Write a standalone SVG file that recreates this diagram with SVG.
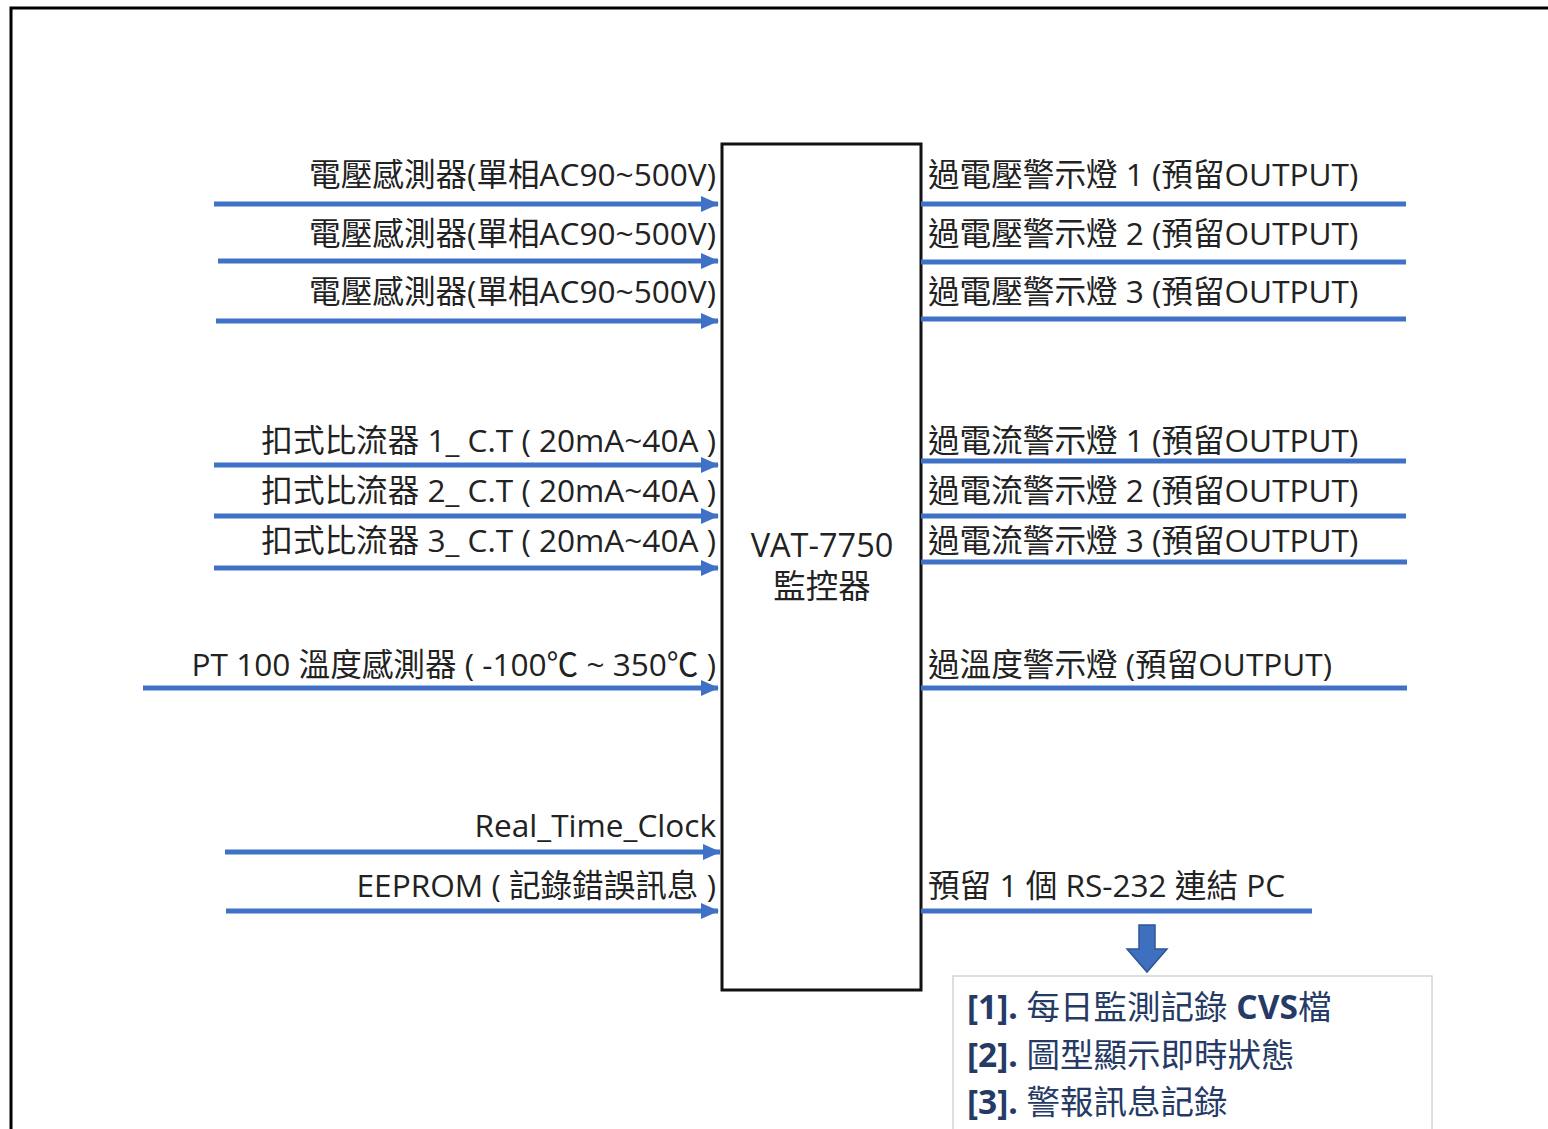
<svg xmlns="http://www.w3.org/2000/svg" width="1548" height="1129" viewBox="0 0 1548 1129">
<defs>
<marker id="ah" markerWidth="3.6" markerHeight="3.2" refX="3.4" refY="1.6" orient="auto" markerUnits="strokeWidth">
<path d="M0,0 L3.6,1.6 L0,3.2 Z" fill="#3f72c6"/>
</marker>
<style>
.lbl{font-family:"Open Sans","Noto Sans CJK TC",sans-serif;font-size:31.6px;fill:#222}
.ctr{font-family:"Open Sans","Noto Sans CJK TC",sans-serif;font-size:32.5px;fill:#222;text-anchor:middle}
.r{text-anchor:end}
.in{stroke:#3f72c6;stroke-width:5;fill:none}
.out{stroke:#3f72c6;stroke-width:5;fill:none}
.pc{font-family:"Open Sans","Noto Sans CJK TC",sans-serif;font-size:33.5px;fill:#263a66}
</style>
</defs>
<rect width="1548" height="1129" fill="#ffffff"/>
<path d="M11,1129 L11,8 L1548,8" fill="none" stroke="#000" stroke-width="3"/>

<g id="controller">
<rect x="722" y="144" width="199" height="846" fill="#fff" stroke="#111" stroke-width="3"/>
<text class="ctr" x="822" y="557">VAT-7750</text>
<text class="ctr" x="822" y="598">監控器</text>
</g>

<g id="connectors">
<line class="in" x1="214" y1="204" x2="718" y2="204" marker-end="url(#ah)"/>
<line class="in" x1="218" y1="261" x2="718" y2="261" marker-end="url(#ah)"/>
<line class="in" x1="216" y1="321" x2="718" y2="321" marker-end="url(#ah)"/>
<line class="in" x1="214" y1="465" x2="718" y2="465" marker-end="url(#ah)"/>
<line class="in" x1="214" y1="516" x2="718" y2="516" marker-end="url(#ah)"/>
<line class="in" x1="214" y1="568" x2="718" y2="568" marker-end="url(#ah)"/>
<line class="in" x1="143" y1="688" x2="718" y2="688" marker-end="url(#ah)"/>
<line class="in" x1="225" y1="852" x2="720" y2="852" marker-end="url(#ah)"/>
<line class="in" x1="226" y1="911" x2="718" y2="911" marker-end="url(#ah)"/>
<line class="out" x1="921" y1="204" x2="1406" y2="204"/>
<line class="out" x1="921" y1="262" x2="1406" y2="262"/>
<line class="out" x1="921" y1="319" x2="1406" y2="319"/>
<line class="out" x1="921" y1="461" x2="1406" y2="461"/>
<line class="out" x1="921" y1="516" x2="1406" y2="516"/>
<line class="out" x1="921" y1="562" x2="1407" y2="562"/>
<line class="out" x1="921" y1="688" x2="1407" y2="688"/>
<line class="out" x1="921" y1="911" x2="1312" y2="911"/>
<path d="M1139,925 L1155,925 L1155,949 L1167,949 L1147,972 L1127,949 L1139,949 Z" fill="#3f6fbf" stroke="#2f5597" stroke-width="1.5"/>
</g>

<g id="inputs">
<text class="lbl r" x="716" y="186">電壓感測器(單相AC90~500V)</text>
<text class="lbl r" x="716" y="245">電壓感測器(單相AC90~500V)</text>
<text class="lbl r" x="716" y="303">電壓感測器(單相AC90~500V)</text>
<text class="lbl r" x="716" y="452">扣式比流器 1_ C.T ( 20mA~40A )</text>
<text class="lbl r" x="716" y="502">扣式比流器 2_ C.T ( 20mA~40A )</text>
<text class="lbl r" x="716" y="552">扣式比流器 3_ C.T ( 20mA~40A )</text>
<text class="lbl r" x="716" y="676">PT 100 溫度感測器 ( -100℃ ~ 350℃ )</text>
<text class="lbl r" x="716" y="837">Real_Time_Clock</text>
<text class="lbl r" x="716" y="897">EEPROM ( 記錄錯誤訊息 )</text>
</g>

<g id="outputs">
<text class="lbl" x="928" y="186">過電壓警示燈 1 (預留OUTPUT)</text>
<text class="lbl" x="928" y="245">過電壓警示燈 2 (預留OUTPUT)</text>
<text class="lbl" x="928" y="303">過電壓警示燈 3 (預留OUTPUT)</text>
<text class="lbl" x="928" y="452">過電流警示燈 1 (預留OUTPUT)</text>
<text class="lbl" x="928" y="502">過電流警示燈 2 (預留OUTPUT)</text>
<text class="lbl" x="928" y="552">過電流警示燈 3 (預留OUTPUT)</text>
<text class="lbl" x="928" y="676">過溫度警示燈 (預留OUTPUT)</text>
<text class="lbl" x="928" y="897">預留 1 個 RS-232 連結 PC</text>
</g>

<g id="pc-functions">
<rect x="953" y="976" width="479" height="160" fill="#fff" stroke="#d4d4d4" stroke-width="1.5"/>
<text class="pc" x="967" y="1019"><tspan font-weight="bold">[1].</tspan> 每日監測記錄 <tspan font-weight="bold">CVS</tspan>檔</text>
<text class="pc" x="967" y="1067"><tspan font-weight="bold">[2].</tspan> 圖型顯示即時狀態</text>
<text class="pc" x="967" y="1114"><tspan font-weight="bold">[3].</tspan> 警報訊息記錄</text>
</g>
</svg>
